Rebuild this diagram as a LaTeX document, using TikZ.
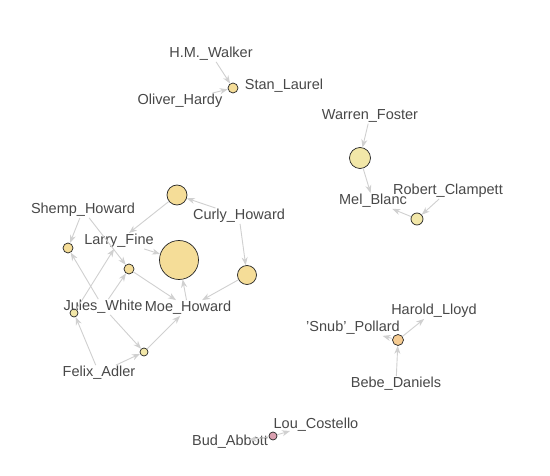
\documentclass[tikz,border=0pt]{standalone}
\usepackage{fontspec}
\setmainfont{Liberation Sans}
\usetikzlibrary{arrows.meta}
\definecolor{crta}{RGB}{208,208,208}
\definecolor{besedilo}{RGB}{72,72,72}
\definecolor{rumena}{RGB}{245,221,152}
\definecolor{bleda}{RGB}{242,231,168}
\definecolor{oranzna}{RGB}{246,204,146}
\definecolor{roza}{RGB}{218,160,176}
\tikzset{
  oseba/.style={text=besedilo, inner sep=1pt, font=\fontsize{14.5}{16}\selectfont},
  film/.style={circle, draw=black!85, line width=0.7pt, fill=rumena, inner sep=0pt, minimum size=#1},
  vez/.style={draw=crta, line width=0.9pt, -{Stealth[length=8pt, width=6pt, inset=2.5pt, fill=crta]}}
}
\begin{document}
\begin{tikzpicture}[x=1pt, y=-1pt]
  \useasboundingbox [fill=white] (0,0) rectangle (550,476);
  % krogi
  \node [film=10] (k1) at (233,88) {};
  \node [film=21, fill=bleda] (k2) at (360,158) {};
  \node [film=12, fill=bleda] (k3) at (417,219) {};
  \node [film=20] (k4) at (177,195) {};
  \node [film=39] (k5) at (179,260) {};
  \node [film=19] (k6) at (247,275) {};
  \node [film=10] (k7) at (129,269) {};
  \node [film=10] (k8) at (68,248) {};
  \node [film=8, fill=bleda] (k9) at (74,313) {};
  \node [film=8, fill=bleda] (k10) at (144,352) {};
  \node [film=11, fill=oranzna] (k11) at (398,340) {};
  \node [film=8, fill=roza] (k12) at (273,436) {};
  % oznake
  \node [oseba] (walker) at (211,54) {H.M.\_Walker};
  \node [oseba] (laurel) at (284,86) {Stan\_Laurel};
  \node [oseba] (hardy) at (180,101) {Oliver\_Hardy};
  \node [oseba] (foster) at (370,116) {Warren\_Foster};
  \node [oseba] (blanc) at (373,201) {Mel\_Blanc};
  \node [oseba] (clampett) at (448,191) {Robert\_Clampett};
  \node [oseba] (shemp) at (83,210) {Shemp\_Howard};
  \node [oseba] (curly) at (239,216) {Curly\_Howard};
  \node [oseba] (larry) at (119,241) {Larry\_Fine};
  \node [oseba] (jules) at (103,307) {Jules\_White};
  \node [oseba] (moe) at (188,308) {Moe\_Howard};
  \node [oseba] (felix) at (99,373) {Felix\_Adler};
  \node [oseba] (lloyd) at (434,311) {Harold\_Lloyd};
  \node [oseba] (pollard) at (353,328) {'Snub'\_Pollard};
  \node [oseba] (daniels) at (396,384) {Bebe\_Daniels};
  \node [oseba] (costello) at (316,425) {Lou\_Costello};
  \node [oseba] (abbott) at (230,442) {Bud\_Abbott};
  \coordinate (abbottv) at (249,440);
  \coordinate (costellov) at (290,431);
  % povezave
  \draw [vez] (walker) -- (k1);
  \draw [vez] (hardy) -- (k1);
  \draw [vez] (foster) -- (k2);
  \draw [vez] (k2) -- (blanc);
  \draw [vez] (clampett) -- (k3);
  \draw [vez] (k3) -- (blanc);
  \draw [vez] (k11) -- (lloyd);
  \draw [vez] (k11) -- (pollard);
  \draw [vez] (daniels) -- (k11);
  \draw [vez] (k12) -- (abbottv);
  \draw [vez] (k12) -- (costellov);
  \draw [vez] (curly) -- (k4);
  \draw [vez] (k4) -- (larry);
  \draw [vez] (curly) -- (k6);
  \draw [vez] (k6) -- (moe);
  \draw [vez] (moe) -- (k5);
  \draw [vez] (larry) -- (k5);
  \draw [vez] (k7) -- (moe);
  \draw [vez] (shemp) -- (k7);
  \draw [vez] (jules) -- (k7);
  \draw [vez] (jules) -- (k10);
  \draw [vez] (k10) -- (moe);
  \draw [vez] (felix) -- (k10);
  \draw [vez] (felix) -- (k9);
  \draw [vez] (shemp) -- (k8);
  \draw [vez] (jules) -- (k8);
  \draw [vez] (k9) -- (larry);
\end{tikzpicture}
\end{document}
